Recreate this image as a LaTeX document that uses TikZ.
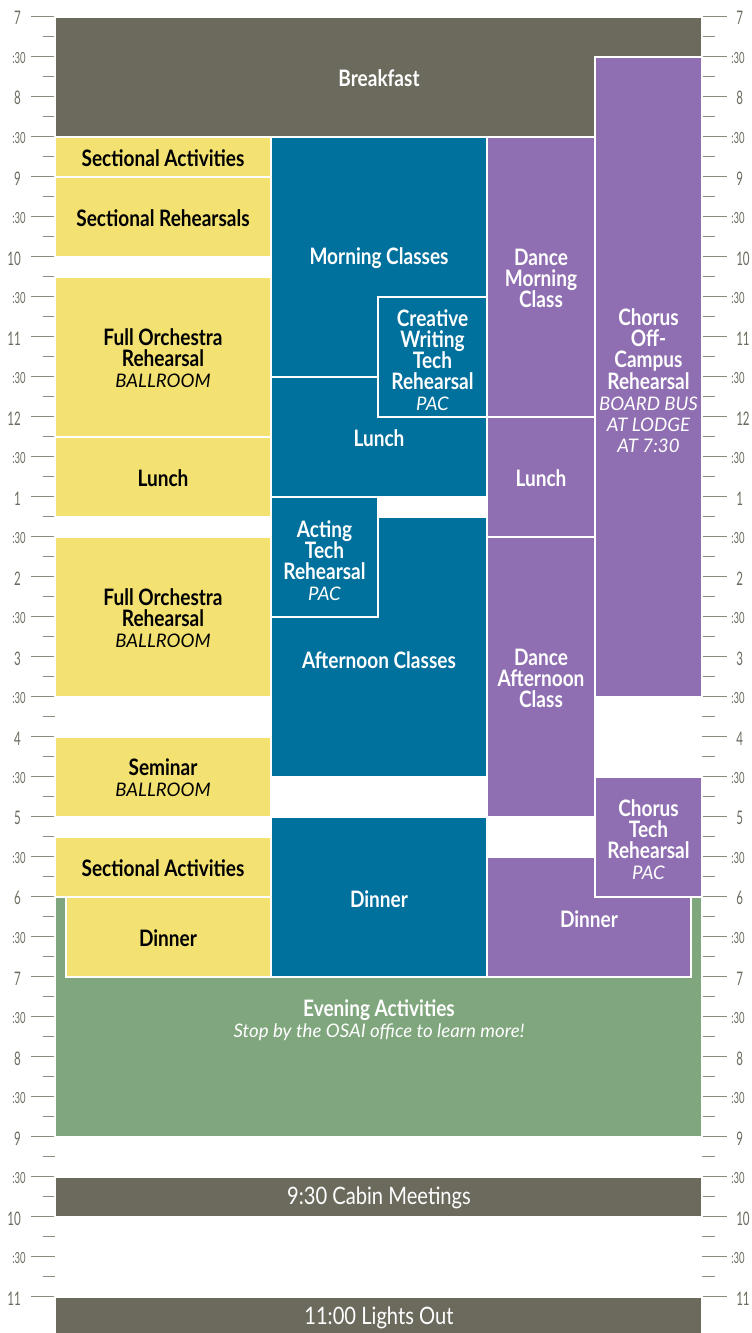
\documentclass[tikz,border=0pt]{standalone}
\usepackage{fontspec}
\setmainfont{Lato}[FakeStretch=0.84]
\newfontfamily\axisfont{Lato}[FakeStretch=0.62]
\newfontfamily\subfam{Lato}
\definecolor{cgray}{HTML}{6B6A5D}
\definecolor{cyel}{HTML}{F3E171}
\definecolor{cblue}{HTML}{00709D}
\definecolor{cpurp}{HTML}{8F6FB2}
\definecolor{cgreen}{HTML}{80A67E}
\definecolor{ctick}{HTML}{8B8B7F}
\definecolor{caxis}{HTML}{6B6B60}
\tikzset{
  slot/.style={draw=white, line width=1.3pt},
  ttl/.style={font=\bfseries\fontsize{17}{15.8}\selectfont, align=center, inner sep=0pt},
  dark/.style={ttl, text=black},
  light/.style={ttl, text=white},
  major/.style={draw=ctick, line width=1.1pt},
  minor/.style={draw=ctick, line width=1.1pt},
  hourlab/.style={font=\axisfont\fontsize{14}{14}\selectfont, text=caxis, inner sep=0pt},
  halflab/.style={font=\axisfont\fontsize{11.5}{12}\selectfont, text=caxis, inner sep=0pt}
}
\newcommand{\subt}[1]{{\subfam\mdseries\itshape\fontsize{14}{14.6}\selectfont #1}}
\begin{document}
\begin{tikzpicture}[x=0.75pt, y=-60pt]
\useasboundingbox (0,-0.20875) rectangle (751,16.45375);
% axis ticks
\foreach \i in {0,...,64}{
  \pgfmathtruncatemacro{\r}{mod(\i,2)}
  \ifnum\r=0
    \draw[major] (31,\i/4) -- (55,\i/4);
    \draw[major] (702,\i/4) -- (727,\i/4);
  \else
    \draw[minor] (43,\i/4) -- (55,\i/4);
    \draw[minor] (702,\i/4) -- (715,\i/4);
  \fi
}
\foreach \h [count=\k from 0] in {7,8,9,10,11,12,1,2,3,4,5,6,7,8,9,10,11}{
  \node[hourlab, anchor=east] (hl\k) at (21,\k+0.02) {\h};
  \node[hourlab, anchor=west] (hr\k) at (736,\k+0.02) {\h};
}
\foreach \k in {0,...,15}{
  \node[halflab, anchor=east] (ml\k) at (26,\k+0.51) {:30};
  \node[halflab, anchor=west] (mr\k) at (731,\k+0.51) {:30};
}
% background blocks
\path[slot, fill=cgreen] (55,11) rectangle (702,14);
\path[slot, fill=cgray] (55,0) rectangle (702,1.5);
\path[slot, fill=cpurp] (595,0.5) rectangle (702,8.5);
% yellow column
\path[slot, fill=cyel] (55,1.5) rectangle (271,2);
\path[slot, fill=cyel] (55,2) rectangle (271,3);
\path[slot, fill=cyel] (55,3.25) rectangle (271,5.25);
\path[slot, fill=cyel] (55,5.25) rectangle (271,6.25);
\path[slot, fill=cyel] (55,6.5) rectangle (271,8.5);
\path[slot, fill=cyel] (55,9) rectangle (271,10);
\path[slot, fill=cyel] (55,10.25) rectangle (271,11);
\path[slot, fill=cyel] (66,11) rectangle (271,12);
% blue column
\path[slot, fill=cblue] (271,1.5) rectangle (487,4.5);
\path[slot, fill=cblue] (271,4.5) rectangle (487,6);
\path[slot, fill=cblue] (378,3.5) rectangle (487,5);
\path[slot, fill=cblue] (271,6.25) rectangle (487,9.5);
\path[slot, fill=cblue] (271,6) rectangle (378,7.5);
\path[slot, fill=cblue] (271,10) rectangle (487,12);
% dance column
\path[slot, fill=cpurp] (487,1.5) rectangle (595,5);
\path[slot, fill=cpurp] (487,5) rectangle (595,6.5);
\path[slot, fill=cpurp] (487,6.5) rectangle (595,10);
\path[slot, fill=cpurp] (487,10.5) rectangle (691,12);
\path[slot, fill=cpurp] (595,9.5) rectangle (702,11);
% late blocks
\path[slot, fill=cgray] (55,14.5) rectangle (702,15);
\path[slot, fill=cgray] (55,16) rectangle (702,16.6);
% labels
\node[light] (breakfast) at (379,0.77) {Breakfast};
\node[dark] (sa1) at (163,1.77) {Sectional Activities};
\node[dark] (sr) at (163,2.52) {Sectional Rehearsals};
\node[dark] (for1) at (163,4.27) {Full Orchestra\\Rehearsal\\\subt{BALLROOM}};
\node[dark] (ylunch) at (163,5.77) {Lunch};
\node[dark] (for2) at (163,7.52) {Full Orchestra\\Rehearsal\\\subt{BALLROOM}};
\node[dark] (seminar) at (163,9.51) {Seminar\\\subt{BALLROOM}};
\node[dark] (sa2) at (163,10.64) {Sectional Activities};
\node[dark] (ydinner) at (168,11.52) {Dinner};
\node[light] (mc) at (379,3.02) {Morning Classes};
\node[light] (blunch) at (379,5.27) {Lunch};
\node[light] (cw) at (432.5,4.29) {Creative\\Writing\\Tech\\Rehearsal\\\subt{PAC}};
\node[light] (acting) at (324.5,6.8) {Acting\\Tech\\Rehearsal\\\subt{PAC}};
\node[light] (ac) at (379,8.04) {Afternoon Classes};
\node[light] (bdinner) at (379,11.03) {Dinner};
\node[light] (dmc) at (541,3.27) {Dance\\Morning\\Class};
\node[light] (dlunch) at (541,5.77) {Lunch};
\node[light] (dac) at (541,8.27) {Dance\\Afternoon\\Class};
\node[light] (pdinner) at (589,11.28) {Dinner};
\node[light] (chorus) at (648.5,4.55) {Chorus\\Off-\\Campus\\Rehearsal\\\subt{BOARD BUS}\\\subt{AT LODGE}\\\subt{AT 7:30}};
\node[light] (ctech) at (648.5,10.29) {Chorus\\Tech\\Rehearsal\\\subt{PAC}};
\node[light] (evening) at (379,12.54) {Evening Activities\\\subt{Stop by the OSAI office to learn more!}};
\node[light, font=\mdseries\fontsize{18}{18}\selectfont] (cabin) at (379,14.77) {9:30 Cabin Meetings};
\node[light, font=\mdseries\fontsize{18}{18}\selectfont] (lights) at (379,16.27) {11:00 Lights Out};
\end{tikzpicture}
\end{document}
